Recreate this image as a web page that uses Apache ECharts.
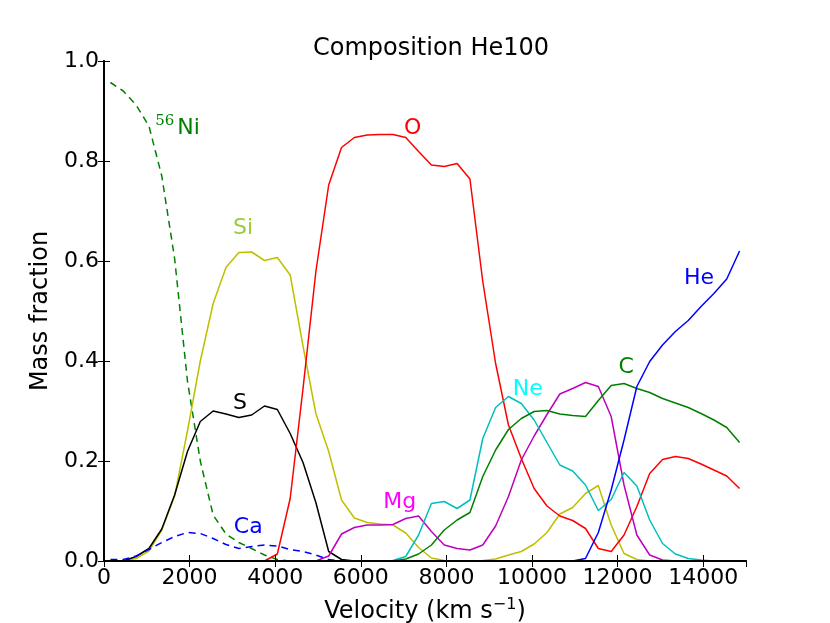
<!DOCTYPE html>
<html>
<head>
<meta charset="utf-8">
<script src="https://cdn.jsdelivr.net/npm/echarts@6/dist/echarts.min.js"></script>
<style>
html, body { margin: 0; padding: 0; background: #fff; }
#main { width: 830px; height: 623px; }
</style>
</head>
<body>
<div id="main"></div>
<script>
// velocity grid (km/s)
var velocity = [150, 450, 750, 1050, 1350, 1650, 1950, 2250, 2550, 2850,
    3150, 3450, 3750, 4050, 4350, 4650, 4950, 5250, 5550, 5850,
    6150, 6450, 6750, 7050, 7350, 7650, 7950, 8250, 8550, 8850,
    9150, 9450, 9750, 10050, 10350, 10650, 10950, 11250, 11550, 11850,
    12150, 12450, 12750, 13050, 13350, 13650, 13950, 14250, 14550, 14850];

// mass fractions, one value per velocity
var ni56 = [0.957, 0.94, 0.912, 0.87, 0.77, 0.605, 0.36, 0.2, 0.092, 0.054,
    0.037, 0.025, 0.012, 0.003, 0, 0, 0, 0, 0, 0,
    0, 0, 0, 0, 0, 0, 0, 0, 0, 0,
    0, 0, 0, 0, 0, 0, 0, 0, 0, 0,
    0, 0, 0, 0, 0, 0, 0, 0, 0, 0];
var si = [0, 0, 0.005, 0.02, 0.062, 0.13, 0.26, 0.40, 0.515, 0.587,
    0.617, 0.618, 0.601, 0.607, 0.572, 0.43, 0.295, 0.219, 0.122, 0.086,
    0.077, 0.074, 0.072, 0.056, 0.027, 0.006, 0.001, 0, 0, 0.001,
    0.004, 0.012, 0.019, 0.034, 0.057, 0.094, 0.107, 0.135, 0.151, 0.072,
    0.015, 0.003, 0, 0, 0, 0, 0, 0, 0, 0];
var s = [0, 0, 0.009, 0.025, 0.064, 0.132, 0.219, 0.279, 0.30, 0.294,
    0.287, 0.292, 0.31, 0.303, 0.255, 0.197, 0.117, 0.019, 0.003, 0,
    0, 0, 0, 0, 0, 0, 0, 0, 0, 0,
    0, 0, 0, 0, 0, 0, 0, 0, 0, 0,
    0, 0, 0, 0, 0, 0, 0, 0, 0, 0];
var ca = [0.003, 0.003, 0.01, 0.023, 0.037, 0.049, 0.057, 0.055, 0.045, 0.033,
    0.025, 0.029, 0.032, 0.03, 0.023, 0.019, 0.012, 0.003, 0, 0,
    0, 0, 0, 0, 0, 0, 0, 0, 0, 0,
    0, 0, 0, 0, 0, 0, 0, 0, 0, 0,
    0, 0, 0, 0, 0, 0, 0, 0, 0, 0];
var o = [0, 0, 0, 0, 0, 0, 0, 0, 0, 0,
    0, 0, 0, 0.014, 0.125, 0.345, 0.579, 0.752, 0.827, 0.847,
    0.852, 0.853, 0.853, 0.847, 0.819, 0.792, 0.789, 0.795, 0.764, 0.559,
    0.395, 0.272, 0.205, 0.145, 0.11, 0.09, 0.081, 0.065, 0.025, 0.019,
    0.052, 0.109, 0.175, 0.203, 0.209, 0.205, 0.194, 0.182, 0.17, 0.145];
var mg = [0, 0, 0, 0, 0, 0, 0, 0, 0, 0,
    0, 0, 0, 0, 0, 0, 0, 0.01, 0.054, 0.067,
    0.072, 0.072, 0.073, 0.085, 0.09, 0.059, 0.032, 0.025, 0.022, 0.032,
    0.07, 0.129, 0.202, 0.25, 0.293, 0.334, 0.345, 0.357, 0.349, 0.289,
    0.152, 0.052, 0.012, 0.002, 0, 0, 0, 0, 0, 0];
var ne = [0, 0, 0, 0, 0, 0, 0, 0, 0, 0,
    0, 0, 0, 0, 0, 0, 0, 0, 0, 0,
    0, 0, 0.001, 0.009, 0.052, 0.115, 0.119, 0.105, 0.122, 0.245,
    0.307, 0.329, 0.315, 0.282, 0.237, 0.192, 0.18, 0.152, 0.101, 0.123,
    0.177, 0.15, 0.082, 0.035, 0.014, 0.005, 0.002, 0, 0, 0];
var c = [0, 0, 0, 0, 0, 0, 0, 0, 0, 0,
    0, 0, 0, 0, 0, 0, 0, 0, 0, 0,
    0, 0, 0, 0.004, 0.014, 0.032, 0.062, 0.082, 0.097, 0.169,
    0.222, 0.263, 0.285, 0.299, 0.301, 0.294, 0.291, 0.289, 0.321, 0.351,
    0.355, 0.345, 0.337, 0.325, 0.316, 0.307, 0.295, 0.282, 0.267, 0.237];
var he = [0, 0, 0, 0, 0, 0, 0, 0, 0, 0,
    0, 0, 0, 0, 0, 0, 0, 0, 0, 0,
    0, 0, 0, 0, 0, 0, 0, 0, 0, 0,
    0, 0, 0, 0, 0, 0, 0, 0.005, 0.057, 0.142,
    0.242, 0.349, 0.399, 0.432, 0.459, 0.481, 0.509, 0.535, 0.564, 0.62];

// where each element name sits, in data units
var labelAt = {
    ni56: [1720, 0.866], si: [3250, 0.666], s: [3180, 0.316], ca: [3370, 0.068],
    o: [7210, 0.866], mg: [6910, 0.118], ne: [9900, 0.344], c: [12200, 0.388],
    he: [13900, 0.566]
};

var FONT = 'DejaVu Sans';
var AXIS_LINE = { show: true, lineStyle: { color: '#000', width: 1.8 } };
var AXIS_TICK = { show: true, inside: true, length: 6, lineStyle: { color: '#000', width: 1 } };

function pairs(ys) {
    return velocity.map(function (v, i) { return [v, ys[i]]; });
}

function elem(name, ys, lineColor, labelColor, dashed, text, rich) {
    return {
        name: name,
        type: 'line',
        data: pairs(ys),
        symbol: 'none',
        clip: true,
        z: 2,
        lineStyle: { color: lineColor, width: 1.5, type: dashed ? [7, 5] : 'solid' },
        markPoint: {
            symbol: 'circle',
            symbolSize: 0,
            data: [{ coord: labelAt[name] }],
            label: {
                show: true,
                position: 'inside',
                formatter: text,
                color: labelColor,
                fontFamily: FONT,
                fontSize: 22,
                rich: rich
            }
        }
    };
}

var myChart = echarts.init(document.getElementById('main'));

var option = {
    animation: false,
    backgroundColor: '#fff',
    title: {
        text: 'Composition He100',
        left: 426,
        top: 32,
        textAlign: 'center',
        textStyle: { fontFamily: FONT, fontSize: 24, fontWeight: 'normal', color: '#000' }
    },
    grid: { left: 104, top: 61, width: 642, height: 500, show: false, outerBoundsMode: 'none', containLabel: false },
    xAxis: [
        {
            type: 'value',
            min: 0,
            max: 15000,
            interval: 2000,
            z: 10,
            name: '{a|Velocity (km s}{sup|\u22121}{a|)}',
            nameLocation: 'middle',
            nameGap: 36,
            nameTextStyle: {
                fontFamily: FONT, fontSize: 24, color: '#000',
                rich: {
                    a: { fontFamily: FONT, fontSize: 24, color: '#000', lineHeight: 30 },
                    sup: { fontFamily: FONT, fontSize: 16, color: '#000', verticalAlign: 'top', lineHeight: 16 }
                }
            },
            axisLine: AXIS_LINE,
            axisTick: AXIS_TICK,
            axisLabel: {
                fontFamily: FONT, fontSize: 22, color: '#000', margin: 6, showMaxLabel: false,
                formatter: function (v) { return String(v); }
            },
            splitLine: { show: false }
        },
        {
            type: 'value',
            position: 'top',
            min: 0,
            max: 15000,
            interval: 2000,
            z: 10,
            axisLine: AXIS_LINE,
            axisTick: AXIS_TICK,
            axisLabel: { show: false },
            splitLine: { show: false }
        }
    ],
    yAxis: [
        {
            type: 'value',
            min: 0,
            max: 1,
            interval: 0.2,
            z: 10,
            name: 'Mass fraction',
            nameLocation: 'middle',
            nameGap: 49,
            nameTextStyle: { fontFamily: FONT, fontSize: 24, color: '#000' },
            axisLine: AXIS_LINE,
            axisTick: AXIS_TICK,
            axisLabel: {
                fontFamily: FONT, fontSize: 22, color: '#000', margin: 5,
                formatter: function (v) { return v.toFixed(1); }
            },
            splitLine: { show: false }
        },
        {
            type: 'value',
            position: 'right',
            min: 0,
            max: 1,
            interval: 0.2,
            z: 10,
            axisLine: AXIS_LINE,
            axisTick: AXIS_TICK,
            axisLabel: { show: false },
            splitLine: { show: false }
        }
    ],
    series: [
        elem('ni56', ni56, '#008000', '#008000', true, '{sup|56}{n|Ni}', {
            sup: { fontFamily: 'DejaVu Serif', fontSize: 15, color: '#008000', verticalAlign: 'top', lineHeight: 16, padding: [0, 3, 0, 0] },
            n: { fontFamily: FONT, fontSize: 22, color: '#008000', lineHeight: 28 }
        }),
        elem('si', si, '#bfbf00', '#9acd32', false, 'Si'),
        elem('s', s, '#000000', '#000000', false, 'S'),
        elem('ca', ca, '#0000ff', '#0000ff', true, 'Ca'),
        elem('o', o, '#ff0000', '#ff0000', false, 'O'),
        elem('mg', mg, '#bf00bf', '#ff00ff', false, 'Mg'),
        elem('ne', ne, '#00bfbf', '#00ffff', false, 'Ne'),
        elem('c', c, '#008000', '#008000', false, 'C'),
        elem('he', he, '#0000ff', '#0000ff', false, 'He')
    ]
};

myChart.setOption(option);
</script>
</body>
</html>
